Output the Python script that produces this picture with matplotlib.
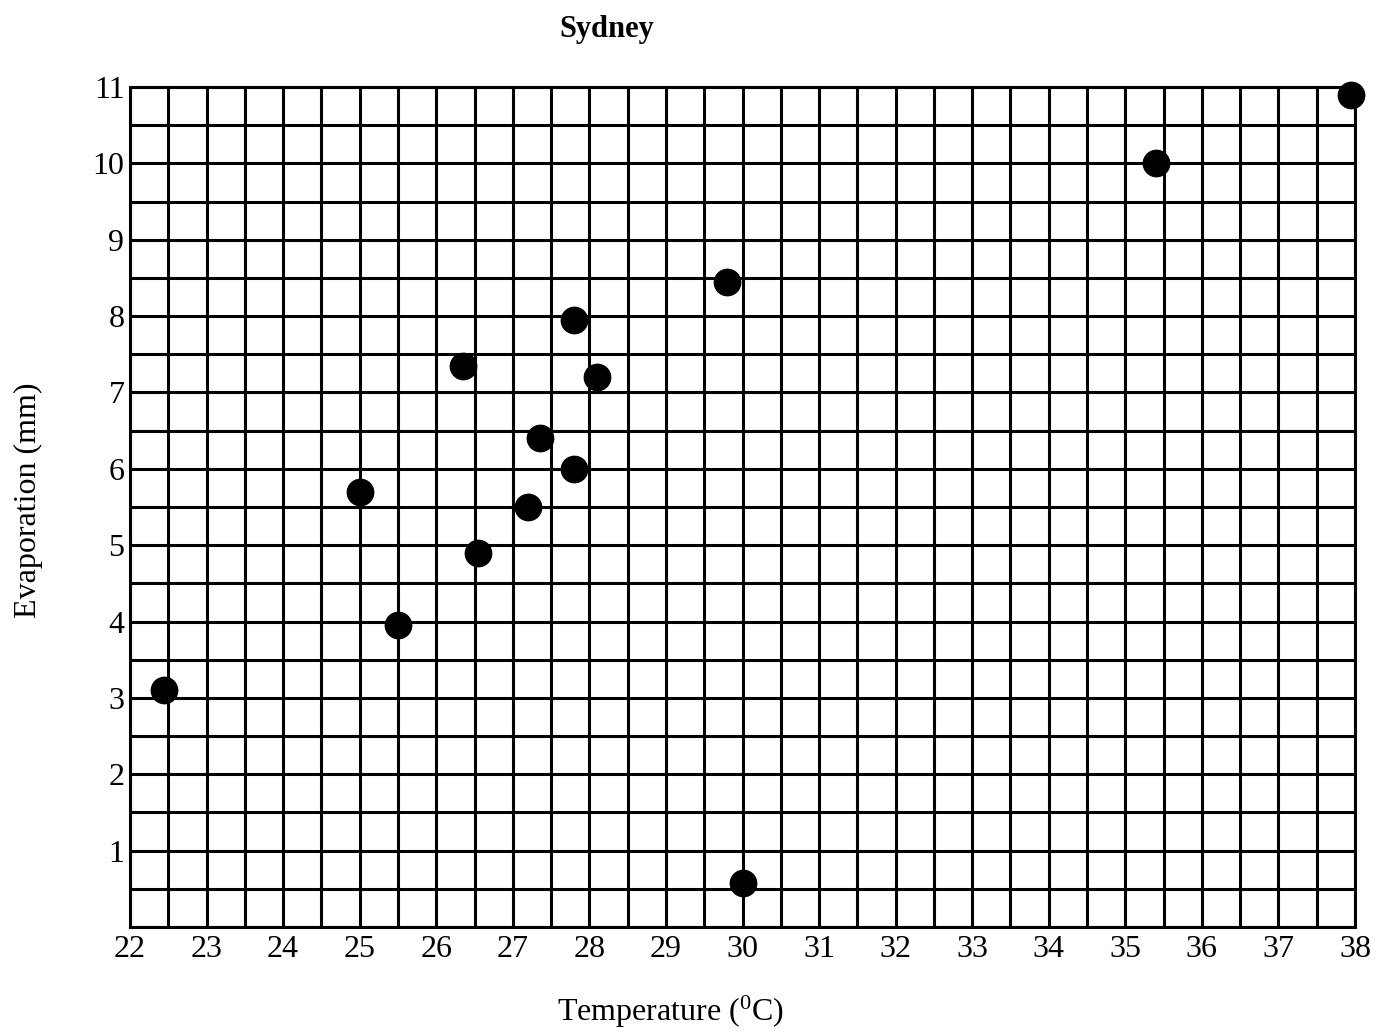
import numpy as np
import matplotlib
matplotlib.use("Agg")
import matplotlib.pyplot as plt

# values
temperature = [22.45, 25.0, 25.5, 26.35, 26.55, 27.2, 27.35, 27.8, 27.8, 28.1, 29.8, 30.0, 35.4, 37.95]
evaporation = [3.1, 5.7, 3.95, 7.35, 4.9, 5.5, 6.4, 6.0, 7.95, 7.2, 8.45, 0.58, 10.0, 10.9]

x_ticks = list(range(22, 39))
y_ticks = list(range(1, 12))

plt.rcParams['font.family'] = ['Liberation Serif', 'DejaVu Serif']
plt.rcParams['mathtext.fontset'] = 'stix'

fig = plt.figure(figsize=(13.76, 10.33), dpi=100)
ax = fig.add_axes([130/1376, 1 - 927/1033, 1225/1376, 840/1033])

ax.set_xlim(22, 38)
ax.set_ylim(0, 11)
ax.set_xticks(x_ticks)
ax.set_yticks(y_ticks)
ax.set_xticks(np.arange(22, 38.01, 0.5), minor=True)
ax.set_yticks(np.arange(0, 11.01, 0.5), minor=True)
ax.grid(which="both", color="black", linewidth=2.2)
ax.set_axisbelow(True)
for s in ax.spines.values():
    s.set_linewidth(2.2)

ax.tick_params(which="both", length=0, labelsize=23)
ax.tick_params(axis="x", pad=6)
ax.tick_params(axis="y", pad=4)

ax.scatter(temperature, evaporation, s=360, color="black", zorder=3, clip_on=False)

# axis labels and title placed by hand, as in the reference
fig.text(28/1376, 1 - 500/1033, "Evaporation (mm)", fontsize=23, rotation=90,
         ha="center", va="center")
fig.text(670/1376, 1 - 1012/1033, "Temperature ($\\mathregular{^0}$C)", fontsize=23,
         ha="center", va="center")
fig.text(607/1376, 1 - 29/1033, "Sydney", fontsize=22, fontweight="bold",
         ha="center", va="center")

fig.savefig("out.png", dpi=100)
